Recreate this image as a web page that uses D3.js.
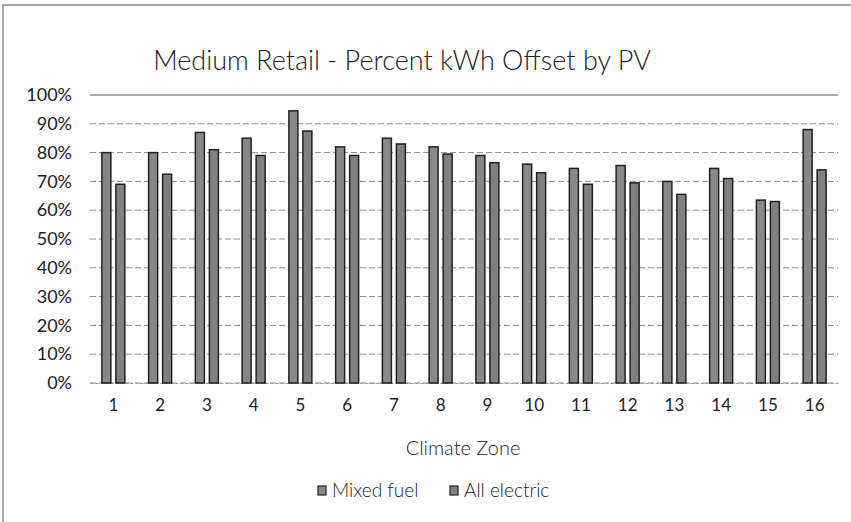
<!DOCTYPE html>
<html>
  <head>
    <meta charset="utf-8">
    <title>Medium Retail</title>
    <style>
        body { margin: 0; background: #fff; }
        text { font-family: Lato, "Open Sans", sans-serif; fill: #222; }
        .grid line { stroke: #8a8a8a; stroke-width: 1px; stroke-dasharray: 6,3; }
        .bar { stroke: #222; stroke-width: 1.5px; }
    </style>
  </head>
  <body>
    <script src="https://d3js.org/d3.v7.min.js"></script>
    <script>
        var zones = ["1","2","3","4","5","6","7","8","9","10","11","12","13","14","15","16"];
        var mixedFuel = [0.80, 0.80, 0.87, 0.85, 0.945, 0.82, 0.85, 0.82, 0.79, 0.76, 0.745, 0.755, 0.70, 0.745, 0.635, 0.88];
        var allElectric = [0.69, 0.725, 0.81, 0.79, 0.875, 0.79, 0.83, 0.795, 0.765, 0.73, 0.69, 0.695, 0.655, 0.71, 0.63, 0.74];
        var yTicks = [0, 0.1, 0.2, 0.3, 0.4, 0.5, 0.6, 0.7, 0.8, 0.9, 1.0];
        var seriesNames = ["Mixed fuel", "All electric"];
        var seriesColors = ["#888888", "#808080"];

        var W = 851, H = 522;
        var svg = d3.select("body").append("svg")
            .attr("width", W)
            .attr("height", H);

        // chart frame (scan shows top and left edge)
        svg.append("rect")
            .attr("x", 3).attr("y", 5)
            .attr("width", W + 10).attr("height", H + 10)
            .attr("fill", "none")
            .attr("stroke", "#555")
            .attr("stroke-width", 1);

        var x = d3.scaleBand()
            .domain(zones)
            .range([90, 838]);

        var y = d3.scaleLinear()
            .domain([0, 1])
            .range([383, 95]);

        // gridlines
        svg.append("g")
            .attr("class", "grid")
            .selectAll("line")
            .data(yTicks)
            .enter()
            .append("line")
              .attr("x1", 90)
              .attr("x2", 838)
              .attr("y1", function(d) { return y(d); })
              .attr("y2", function(d) { return y(d); })
              .style("stroke", function(d) { return d == 1 ? "#555" : null; })
              .style("stroke-dasharray", function(d) { return d == 1 ? "none" : null; });

        // y axis labels
        var yAxis = svg.append("g")
            .attr("transform", "translate(90,0)")
            .call(d3.axisLeft(y).tickValues(yTicks).tickFormat(d3.format(".0%")).tickSize(0).tickPadding(18));
        yAxis.select(".domain").remove();
        yAxis.selectAll("text").style("font-size", "18px").style("fill", "#222").attr("font-family", null);

        // x axis labels
        var xAxis = svg.append("g")
            .attr("transform", "translate(0,383)")
            .call(d3.axisBottom(x).tickSize(0).tickPadding(16));
        xAxis.select(".domain").attr("stroke", "#999").attr("stroke-dasharray", "3,2");
        xAxis.selectAll("text").style("font-size", "17px").style("fill", "#222").attr("font-family", null);

        var barW = 9;
        var groups = [mixedFuel, allElectric];
        groups.forEach(function(vals, s) {
            svg.append("g")
              .selectAll("rect")
              .data(vals)
              .enter()
              .append("rect")
                .attr("class", "bar")
                .attr("x", function(d, i) {
                    var c = x(zones[i]) + x.bandwidth() / 2;
                    return s == 0 ? c - 11.5 : c + 2.5;
                })
                .attr("y", function(d) { return y(d); })
                .attr("width", barW)
                .attr("height", function(d) { return y(0) - y(d); })
                .attr("fill", seriesColors[s]);
        });

        // title
        svg.append("text")
            .attr("x", 402)
            .attr("y", 70)
            .attr("text-anchor", "middle")
            .style("font-size", "27px")
            .style("font-weight", 300)
            .text("Medium Retail - Percent kWh Offset by PV");

        // x axis title
        svg.append("text")
            .attr("x", 463)
            .attr("y", 455)
            .attr("text-anchor", "middle")
            .style("font-size", "20px")
            .style("font-weight", 300)
            .text("Climate Zone");

        // legend
        var legX = [318, 450];
        seriesNames.forEach(function(name, i) {
            svg.append("rect")
                .attr("x", legX[i])
                .attr("y", 486)
                .attr("width", 8)
                .attr("height", 9)
                .attr("fill", seriesColors[i])
                .attr("stroke", "#222")
                .attr("stroke-width", 1.2);
            svg.append("text")
                .attr("x", legX[i] + 14)
                .attr("y", 497)
                .style("font-size", "19px")
                .style("font-weight", 300)
                .text(name);
        });
    </script>
  </body>
</html>
